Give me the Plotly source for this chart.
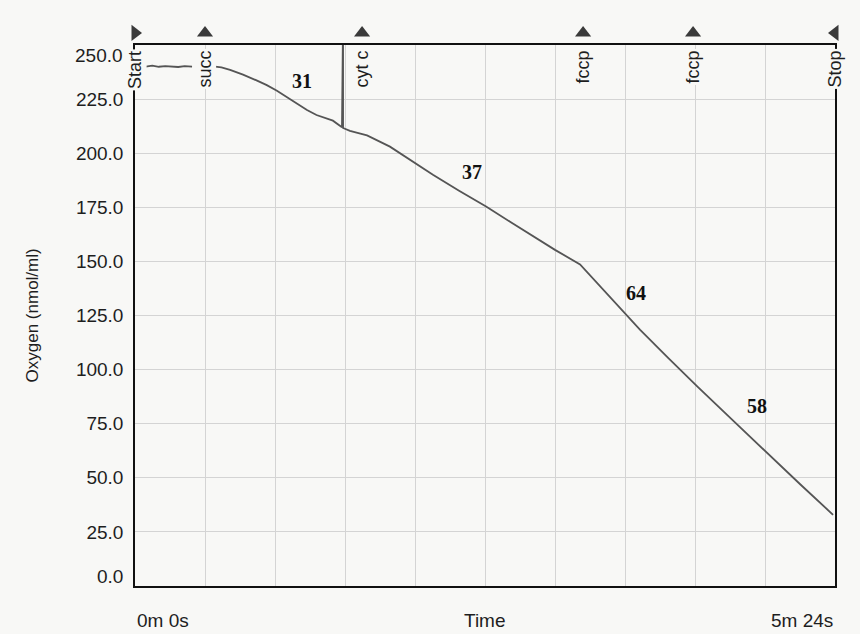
"""Oxygraph trace: oxygen consumption with substrate/inhibitor additions."""
import plotly.graph_objects as go

# time (s) and oxygen (nmol/ml); None = gap in the recording
time_s = [2.0, 5.0, 8.0, 11.0, 14.0, 17.0, 20.0, 23.0, 26.4, None,
          36.1, 40.0, 44.0, 50.0, 56.5, 61.0, 65.7, 71.7, 76.0, 79.6,
          84.0, 87.0, 91.6, 95.8, 96.3, 96.3, 99.5, 103.0, 107.4, 118.0,
          127.3, 137.9, 150.0, 162.5, 173.6, 184.2, 194.4, 206.0, 215.2, 226.8,
          233.7, 247.0, 260.1, 276.0, 292.5, 308.0, 323.1]
oxygen = [240.3, 240.0, 240.4, 239.9, 240.2, 240.1, 239.8, 240.2, 240.0, None,
          240.1, 239.6, 238.5, 236.3, 233.5, 231.4, 228.8, 225.0, 222.4, 219.9,
          217.6, 216.5, 215.0, 212.0, 262.0, 211.6, 210.3, 209.4, 208.2, 203.0,
          196.8, 190.0, 182.6, 175.3, 168.3, 161.7, 155.3, 148.6, 138.6, 126.2,
          118.5, 105.2, 92.3, 77.2, 61.4, 46.9, 32.9]

# additions marked along the top of the chart
event_names = ["Start", "succ", "cyt c", "fccp", "fccp", "Stop"]
event_times = [0.0, 32.4, 105.1, 207.4, 258.3, 324.0]
event_symbols = ["triangle-right", "triangle-up", "triangle-up",
                 "triangle-up", "triangle-up", "triangle-left"]

# respiration rates written on the trace
rate_labels = ["31", "37", "64", "58"]
rate_times = [77.3, 155.9, 231.9, 287.9]
rate_values = [233.3, 191.2, 135.6, 83.0]

y_ticks = [0, 25, 50, 75, 100, 125, 150, 175, 200, 225, 250]
x_end_labels = ["0m 0s", "5m 24s"]
T_END = 324.0
Y_RANGE = [0, 250]

BG = "#f8f8f6"
INK = "#1e1e1e"
FONT = "Liberation Sans, Arial, sans-serif"

fig = go.Figure()

fig.add_trace(go.Scatter(
    x=time_s, y=oxygen, mode="lines",
    line=dict(color="#555555", width=1.8),
    connectgaps=False, hoverinfo="skip", showlegend=False,
))

# event markers in a thin strip above the frame
fig.add_trace(go.Scatter(
    x=event_times, y=[0.4] * len(event_times), xaxis="x2", yaxis="y2",
    mode="markers", cliponaxis=False, showlegend=False, hoverinfo="skip",
    marker=dict(symbol=event_symbols, size=14, color="#3a3a3a"),
))

annotations = []
for name, t in zip(event_names, event_times):
    annotations.append(dict(
        x=t, y=0.956, xref="x", yref="paper", text=name, showarrow=False,
        textangle=-90, xanchor="center", yanchor="top", yshift=-4,
        bgcolor=BG, borderpad=1,
        font=dict(family=FONT, size=18, color=INK),
    ))

for lab, t, v in zip(rate_labels, rate_times, rate_values):
    annotations.append(dict(
        x=t, y=v, text="<b>%s</b>" % lab, showarrow=False,
        font=dict(family="Liberation Serif, Times New Roman, serif",
                  size=20, color="#111111"),
    ))

# end labels of the oxygen axis sit just inside the frame
for v, shift in [(y_ticks[0], 10), (y_ticks[-1], -11)]:
    annotations.append(dict(
        x=0, y=v, xref="paper", yref="y", text="%.1f" % v, showarrow=False,
        xanchor="right", xshift=-10, yshift=shift,
        font=dict(family=FONT, size=19, color=INK),
    ))

for txt, xp, anchor in [(x_end_labels[0], 0, "left"), ("Time", 0.5, "center"),
                        (x_end_labels[1], 1, "right")]:
    annotations.append(dict(
        x=xp, y=0, xref="paper", yref="paper", text=txt,
        showarrow=False, xanchor=anchor, yanchor="middle", yshift=-34,
        font=dict(family=FONT, size=19, color=INK),
    ))

annotations.append(dict(
    x=0, y=0.478, xref="paper", yref="paper", text="Oxygen (nmol/ml)",
    showarrow=False, textangle=-90, xanchor="center", xshift=-103,
    font=dict(family=FONT, size=17, color=INK),
))

fig.update_layout(
    width=860, height=634,
    margin=dict(l=135, r=25, t=20, b=48),
    paper_bgcolor=BG, plot_bgcolor=BG,
    annotations=annotations,
    xaxis=dict(
        range=[0, T_END], tick0=0, dtick=T_END / 10, anchor="y",
        showticklabels=False, showgrid=True, gridcolor="#d4d4d4", gridwidth=1,
        zeroline=False, showline=True, linecolor="#111111", linewidth=1.5,
        mirror=True,
    ),
    yaxis=dict(
        range=Y_RANGE, domain=[0, 0.956], anchor="x", tickvals=y_ticks[1:-1],
        ticktext=["%.1f" % v for v in y_ticks[1:-1]],
        showgrid=True, gridcolor="#d4d4d4", gridwidth=1,
        zeroline=False, showline=True, linecolor="#111111", linewidth=1.5,
        mirror=True, ticks="outside", ticklen=6, tickcolor="rgba(0,0,0,0)",
        tickfont=dict(family=FONT, size=19, color=INK),
    ),
    xaxis2=dict(range=[0, T_END], anchor="y2", matches="x", visible=False),
    yaxis2=dict(range=[0, 1], domain=[0.962, 1], anchor="x2", visible=False),
)

fig.write_html("out.html", config={"displayModeBar": False},
               post_script="document.body.style.margin='0';")
